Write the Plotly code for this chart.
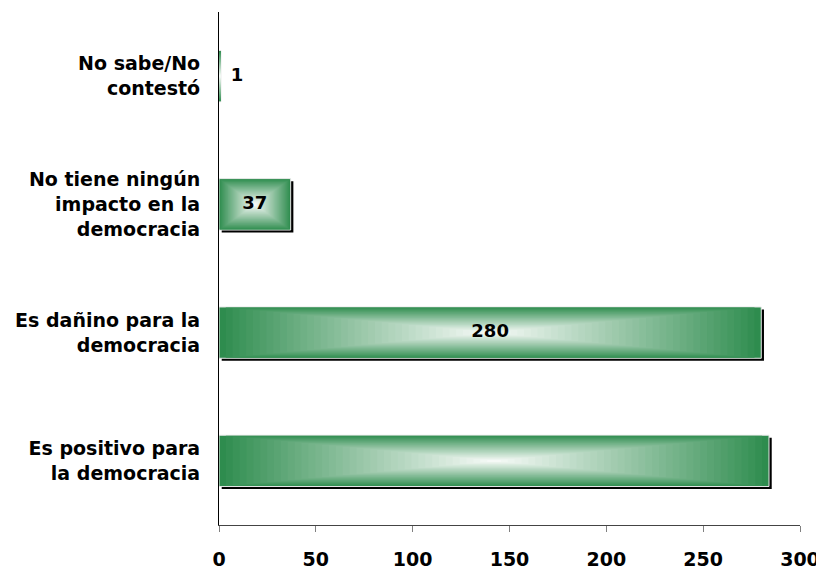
import plotly.graph_objects as go

categories = ["Es positivo para<br>la democracia", "Es dañino para la<br>democracia",
              "No tiene ningún<br>impacto en la<br>democracia", "No sabe/No<br>contestó"]
values = [284, 280, 37, 1]
labels = ["", "280", "37", "1"]
x_ticks = [0, 50, 100, 150, 200, 250, 300]

GREEN = (46, 140, 78)
WHITE = (250, 252, 250)
BAR_W = 0.4
N = 40
FONT = "DejaVu Sans, Liberation Sans, Arial"

fig = go.Figure()

# shadow
sh = [v if v > 5 else 0 for v in values]
fig.add_trace(go.Bar(
    y=categories, x=sh, base=[1.4] * len(values), orientation="h",
    width=BAR_W, offset=-BAR_W / 2 - 0.02,
    marker=dict(color="black", line=dict(width=0)), hoverinfo="skip", showlegend=False))

# gradient layers
for k in range(N):
    s = k / N
    f = s ** 0.95
    col = tuple(int(round(GREEN[i] + (WHITE[i] - GREEN[i]) * f)) for i in range(3))
    w = BAR_W * (1 - s)
    line = dict(width=1, color="#e8e8e8") if k == 0 else dict(width=0)
    fig.add_trace(go.Bar(
        y=categories, x=[v * (1 - s) for v in values], base=[v * s / 2 for v in values],
        orientation="h", width=w, offset=-w / 2,
        marker=dict(color="rgb(%d,%d,%d)" % col, line=line),
        hoverinfo="skip", showlegend=False))

# value labels
lx = [v / 2 if v > 20 else v + 8.3 for v in values]
fig.add_trace(go.Scatter(
    y=categories, x=lx, text=labels, mode="text", textposition="middle center",
    textfont=dict(family=FONT, size=18, color="black", weight="bold"),
    hoverinfo="skip", showlegend=False))

fig.update_layout(
    barmode="overlay", bargap=0.6,
    width=816, height=563,
    margin=dict(l=211, r=24, t=4, b=46),
    paper_bgcolor="white", plot_bgcolor="white",
    font=dict(family=FONT, size=19, color="black"),
    xaxis=dict(range=[0, 300], tickvals=x_ticks, showgrid=False, zeroline=False,
               showline=True, linecolor="#444444", linewidth=1,
               ticks="outside", ticklen=6, tickcolor="#808080",
               tickfont=dict(family=FONT, size=19, weight="bold"), ticklabelstandoff=11,
               automargin=False),
    yaxis=dict(type="category", categoryorder="array", categoryarray=categories,
               range=[-0.5, 3.5], showgrid=False, zeroline=False,
               showline=True, linecolor="black", linewidth=1, ticks="",
               tickfont=dict(family=FONT, size=19, weight="bold"), ticklabelstandoff=14,
               automargin=False),
)

fig.write_html("out.html")
